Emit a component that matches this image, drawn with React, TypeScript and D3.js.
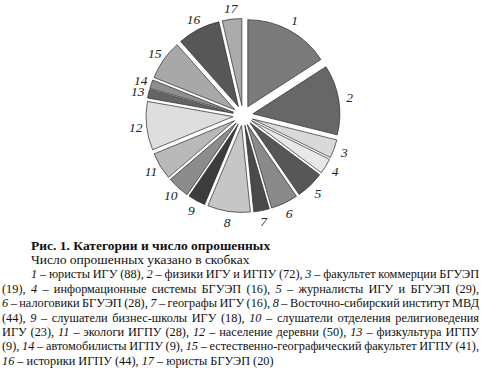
import React from 'react';
import * as d3 from 'd3';

const categories = ['1','2','3','4','5','6','7','8','9','10','11','12','13','14','15','16','17'];
const counts = [88, 72, 19, 16, 29, 28, 16, 44, 18, 23, 28, 50, 9, 9, 41, 44, 20];
const shades = ['#7b7b7b','#676767','#d9d9d9','#e8e8e8','#575757','#8a8a8a','#4a4a4a','#c6c6c6','#3c3c3c','#8c8c8c','#b9b9b9','#dedede','#646464','#8e8e8e','#a8a8a8','#575757','#ababab'];

const title = 'Рис. 1. Категории и число опрошенных';
const subtitle = 'Число опрошенных указано в скобках';
const legendLines = [
  '*1* – юристы ИГУ (88), *2* – физики ИГУ и ИГПУ (72), *3* – факультет коммерции БГУЭП',
  '(19), *4* – информационные системы БГУЭП (16), *5* – журналисты ИГУ и БГУЭП (29),',
  '*6* – налоговики БГУЭП (28), *7* – географы ИГУ (16), *8* – Восточно-сибирский институт МВД',
  '(44), *9* – слушатели бизнес-школы ИГУ (18), *10* – слушатели отделения религиоведения',
  'ИГУ (23), *11* – экологи ИГПУ (28), *12* – население деревни (50), *13* – физкультура ИГПУ',
  '(9), *14* – автомобилисты ИГПУ (9), *15* – естественно-географический факультет ИГПУ (41),',
  '*16* – историки ИГПУ (44), *17* – юристы БГУЭП (20)',
];

const FONT = "'Liberation Serif', 'Times New Roman', serif";
const FS = 12.3;
const FS_HEAD = 13.5;

function parse(line: string) {
  const parts = line.split('*');
  return parts.map((t, i) => ({ text: t, italic: i % 2 === 1 })).filter(p => p.text.length > 0);
}

let ctx: CanvasRenderingContext2D | null = null;
function measure(text: string, italic: boolean, bold = false) {
  if (!ctx) ctx = document.createElement('canvas').getContext('2d');
  if (!ctx) return text.length * FS * 0.5;
  ctx.font = `${italic ? 'italic ' : ''}${bold ? 'bold ' : ''}${FS}px ${FONT}`;
  return ctx.measureText(text).width;
}

export default function App() {
  const W = 481, H = 370;
  const cx = 243, cy = 115.5, r = 87, explode = 10, labelR = 108;
  const pie = d3.pie<number>().sort(null).value(d => d);
  const arcs = pie(counts);
  const arc = d3.arc<d3.PieArcDatum<number>>().innerRadius(0).outerRadius(r);

  const lineX = [31, 2, 2, 2, 2, 2, 2];
  const rightEdge = 479;
  const y0 = 249.5;
  const lh = 14.4;

  return (
    <svg width={W} height={H} style={{ position: 'absolute', left: 0, top: 0, background: '#fff' }}>
      <rect width={W} height={H} fill="#fff" />
      <g transform={`translate(${cx},${cy})`}>
        {arcs.map((a, i) => {
          const mid = (a.startAngle + a.endAngle) / 2;
          const dx = Math.sin(mid) * explode, dy = -Math.cos(mid) * explode;
          return (
            <path key={i} d={arc(a) || ''} transform={`translate(${dx},${dy})`}
              fill={shades[i]} stroke="#2a2a2a" strokeWidth={0.7} strokeLinejoin="miter" />
          );
        })}
        {arcs.map((a, i) => {
          const mid = (a.startAngle + a.endAngle) / 2;
          return (
            <text key={'l' + i} x={Math.sin(mid) * labelR} y={-Math.cos(mid) * labelR}
              textAnchor="middle" dominantBaseline="central" fontFamily={FONT}
              fontStyle="italic" fontSize={13.5} fill="#222">{categories[i]}</text>
          );
        })}
      </g>
      <text x={31} y={y0} fontFamily={FONT} fontSize={FS_HEAD} fontWeight="bold" fill="#111">{title}</text>
      <text x={31} y={y0 + lh} fontFamily={FONT} fontSize={FS_HEAD} fill="#111">{subtitle}</text>
      {legendLines.map((line, li) => {
        const segs = parse(line);
        const natural = segs.reduce((s, p) => s + measure(p.text, p.italic), 0);
        const spaces = (line.replace(/\*/g, '').match(/ /g) || []).length;
        const justify = li < legendLines.length - 1;
        const ws = justify && spaces > 0 ? (rightEdge - lineX[li] - natural) / spaces : 0;
        return (
          <text key={li} x={lineX[li]} y={y0 + lh * (li + 2)} fontFamily={FONT} fontSize={FS}
            fill="#111" wordSpacing={ws} style={{ whiteSpace: 'pre' }}>
            {segs.map((p, k) => (
              <tspan key={k} fontStyle={p.italic ? 'italic' : 'normal'}>{p.text}</tspan>
            ))}
          </text>
        );
      })}
    </svg>
  );
}
